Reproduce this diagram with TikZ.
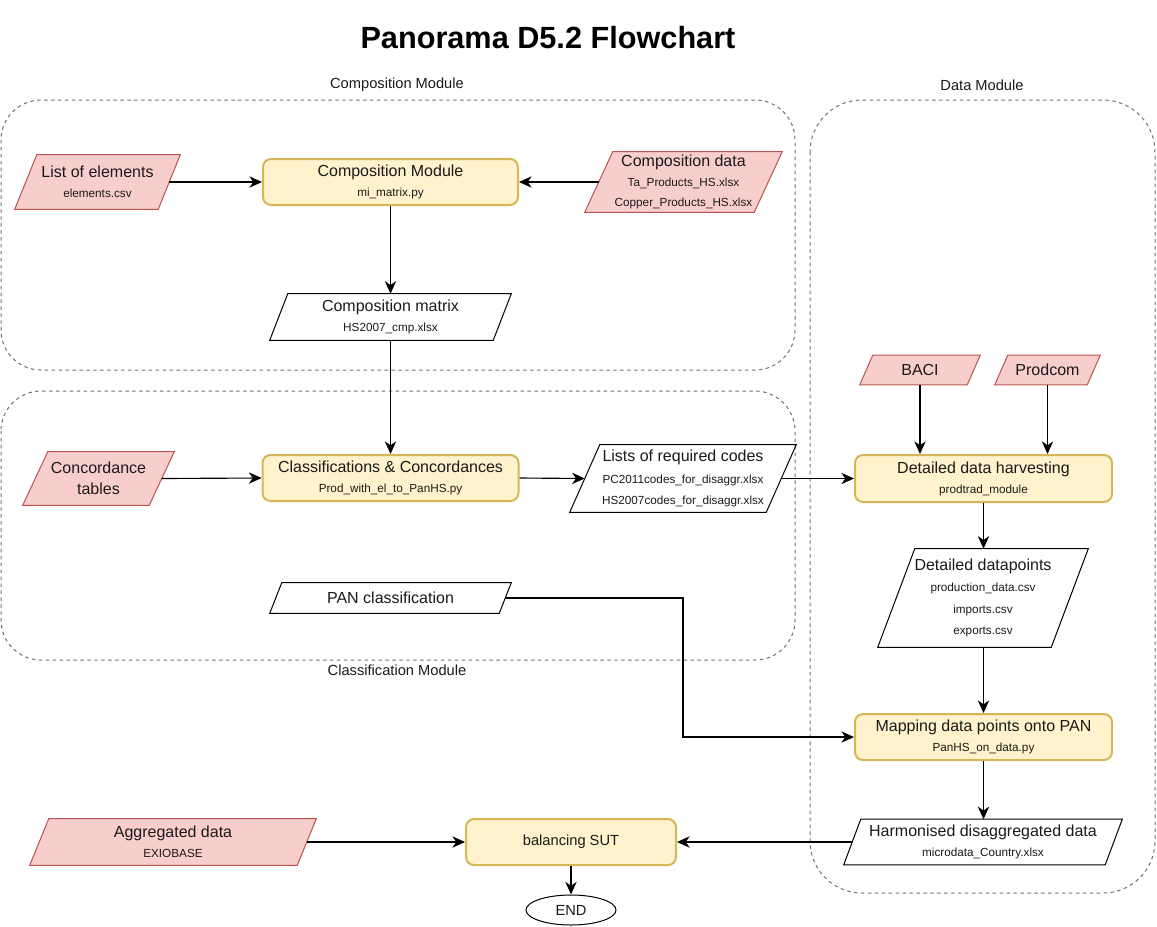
\documentclass[tikz,border=0pt]{standalone}
\usepackage{fontspec}
\setmainfont{Liberation Sans}
\usetikzlibrary{arrows.meta,shapes.geometric,backgrounds}
\definecolor{redfill}{HTML}{F8CECC}
\definecolor{redline}{HTML}{B85450}
\definecolor{yelfill}{HTML}{FFF2CC}
\definecolor{yelline}{HTML}{D6B656}
\definecolor{grp}{HTML}{707070}
\definecolor{txt}{HTML}{1A1A1A}
\newcommand\mt[1]{{\fontsize{12}{15}\selectfont #1}}
\newcommand\st[1]{{\fontsize{8.8}{15}\selectfont #1}}
\newcommand\drawpara[3]{\path[#3] (#1.south west) -- ([xshift=#2]#1.north west) -- (#1.north east) -- ([xshift=-#2]#1.south east) -- cycle;}
\tikzset{
 box/.style={inner sep=0pt, align=center, text=txt, font=\fontsize{8.8}{15}\selectfont},
 proc/.style={draw=yelline, fill=yelfill, line width=1.5pt, rounded corners=6pt},
 redp/.style={draw=redline, fill=redfill, line width=0.75pt},
 whitep/.style={draw=black, line width=0.75pt},
 grpbox/.style={draw=grp, dash pattern=on 2.6pt off 2.6pt, line width=0.75pt},
 arr/.style={draw=black, line width=0.85pt, -{Stealth[length=9.5pt,width=8.5pt,inset=3pt]}},
 lbl/.style={font=\fontsize{11}{13}\selectfont, inner sep=0pt, text=txt}
}
\begin{document}
\begin{tikzpicture}[x=0.75pt,y=-0.75pt]
\useasboundingbox (0,0) rectangle (1157,926);

\node[font=\bfseries\fontsize{23}{26}\selectfont, inner sep=0pt] (title) at (548,38) {Panorama D5.2 Flowchart};
\node[lbl] (lcomp) at (397,85) {Composition Module};
\node[lbl] (ldata) at (982,85) {Data Module};
\node[lbl] (lclass) at (397,670) {Classification Module};

% nodes
\node[box, minimum width=123.75pt, minimum height=40.5pt] (loe) at (97.5,182) {\mt{List of elements}\\\st{elements.csv}};
\node[box, proc, minimum width=191.25pt, minimum height=34.5pt] (cm) at (390.5,182) {\mt{Composition Module}\\\st{mi\_matrix.py}};
\node[box, minimum width=147.75pt, minimum height=45pt] (cd) at (683.5,182) {\mt{Composition data}\\\st{Ta\_Products\_HS.xlsx}\\\st{Copper\_Products\_HS.xlsx}};
\node[box, minimum width=180.75pt, minimum height=34.5pt] (cmx) at (390.5,317) {\mt{Composition matrix}\\\st{HS2007\_cmp.xlsx}};
\node[box, minimum width=113.25pt, minimum height=39.75pt, font=\fontsize{12}{16}\selectfont] (conc) at (98.5,478.5) {Concordance\\tables};
\node[box, proc, minimum width=192pt, minimum height=34.5pt] (cc) at (390.5,478) {\mt{Classifications \& Concordances}\\\st{Prod\_with\_el\_to\_PanHS.py}};
\node[box, minimum width=169.5pt, minimum height=50.25pt, font=\fontsize{8.8}{16}\selectfont] (lrc) at (683,478.5) {\mt{Lists of required codes}\\\st{PC2011codes\_for\_disaggr.xlsx}\\\st{HS2007codes\_for\_disaggr.xlsx}};
\node[box, minimum width=180.75pt, minimum height=22.5pt] (pan) at (390.5,598) {\mt{PAN classification}};
\node[box, minimum width=90pt, minimum height=21.75pt] (baci) at (920,370) {\mt{BACI}};
\node[box, minimum width=78.75pt, minimum height=21.75pt] (prod) at (1047.5,370) {\mt{Prodcom}};
\node[box, proc, minimum width=192.75pt, minimum height=35.25pt] (ddh) at (983.5,478.5) {\mt{Detailed data harvesting}\\\st{prodtrad\_module}};
\node[box, minimum width=157.5pt, minimum height=73.5pt, font=\fontsize{8.8}{16}\selectfont] (ddp) at (983,598) {\mt{Detailed datapoints}\\\st{production\_data.csv}\\\st{imports.csv}\\\st{exports.csv}};
\node[box, proc, minimum width=192.75pt, minimum height=34.5pt] (map) at (983.5,737) {\mt{Mapping data points onto PAN}\\\st{PanHS\_on\_data.py}};
\node[box, minimum width=208.5pt, minimum height=33.75pt] (hd) at (983,842) {\mt{Harmonised disaggregated data}\\\st{microdata\_Country.xlsx}};
\node[box, minimum width=214.5pt, minimum height=34.5pt] (agg) at (173,842) {\mt{Aggregated data}\\\st{EXIOBASE}};
\node[box, proc, minimum width=157.5pt, minimum height=34.5pt, font=\fontsize{11}{13}\selectfont] (bal) at (571,842) {balancing SUT};
\node[ellipse, draw=black, line width=0.75pt, fill=white, inner sep=0pt, minimum width=67.5pt, minimum height=22.5pt, font=\fontsize{11}{13}\selectfont, text=txt] (end) at (571,910) {END};

% connectors
\coordinate (pbend) at (683,737);
\draw[arr] ([xshift=-8.25pt]loe.east) -- (cm.west);
\draw[arr] ([xshift=10.5pt]cd.west) -- (cm.east);
\draw[arr] (cm.south) -- (cmx.north);
\draw[arr] (cmx.south) -- (cc.north);
\draw[arr] ([xshift=-9.4pt]conc.east) -- (cc.west);
\draw[arr] (cc.east) -- ([xshift=11.25pt]lrc.west);
\draw[arr] ([xshift=-11.25pt]lrc.east) -- (ddh.west);
\draw[arr] (baci.south) -- (baci.south |- ddh.north);
\draw[arr] (prod.south) -- (prod.south |- ddh.north);
\draw[arr] (ddh.south) -- (ddh.south |- ddp.north);
\draw[arr] (ddp.south -| map.north) -- (map.north);
\draw[arr] ([xshift=-4.5pt]pan.east) -| (pbend) -- (map.west);
\draw[arr] (map.south) -- (map.south |- hd.north);
\draw[arr] ([xshift=6.4pt]hd.west) -- (bal.east);
\draw[arr] ([xshift=-7.1pt]agg.east) -- (bal.west);
\draw[arr] (bal.south) -- (end.north);

\begin{scope}[on background layer]
\draw[grpbox, rounded corners=30pt] (1,100) rectangle (795,370);
\draw[grpbox, rounded corners=30pt] (1,391) rectangle (795,660);
\draw[grpbox, rounded corners=39pt] (810,100) rectangle (1155,893);
\drawpara{loe}{16.5pt}{redp}
\drawpara{cd}{21pt}{redp}
\drawpara{cmx}{13.5pt}{whitep}
\drawpara{conc}{18.75pt}{redp}
\drawpara{lrc}{22.5pt}{whitep}
\drawpara{pan}{9pt}{whitep}
\drawpara{baci}{9.75pt}{redp}
\drawpara{prod}{9.75pt}{redp}
\drawpara{ddp}{27.75pt}{whitep}
\drawpara{hd}{12.75pt}{whitep}
\drawpara{agg}{14.25pt}{redp}
\end{scope}
\end{tikzpicture}
\end{document}
